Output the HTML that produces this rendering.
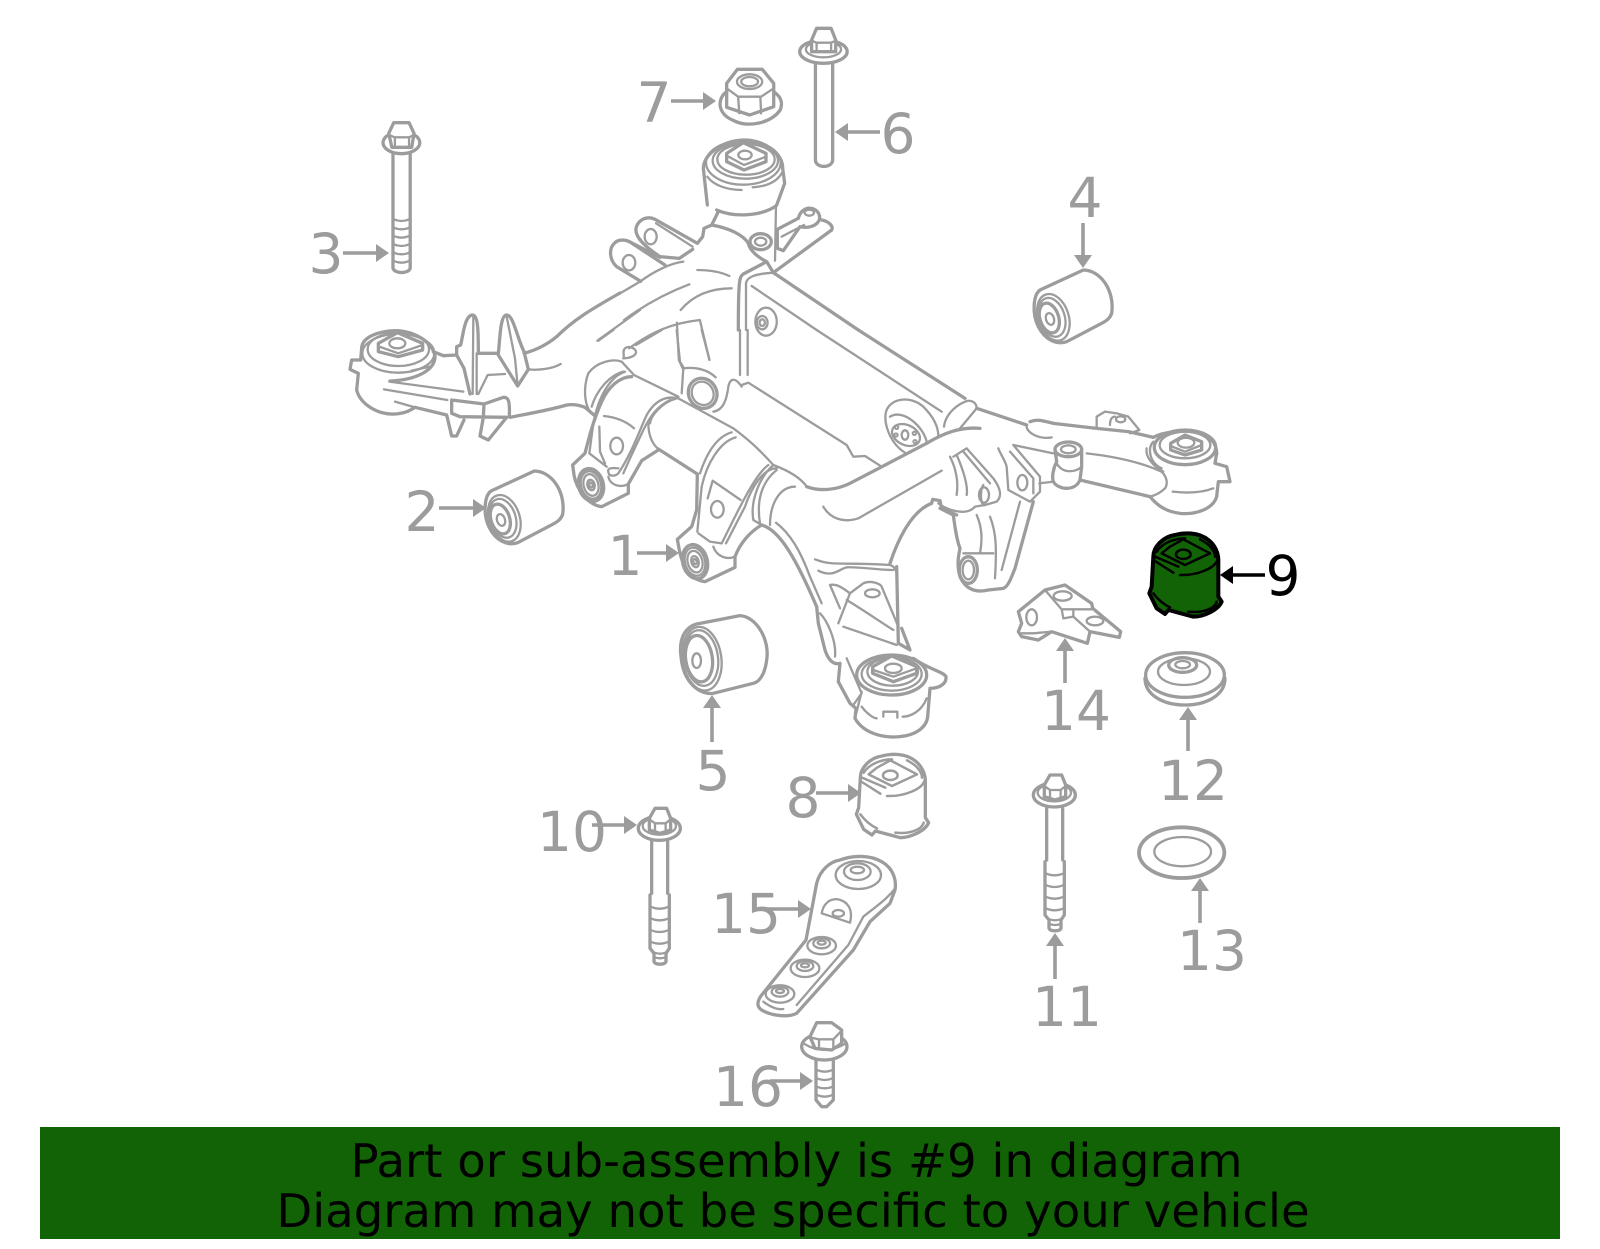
<!DOCTYPE html>
<html><head><meta charset="utf-8"><title>Diagram</title>
<style>
html,body{margin:0;padding:0;background:#fff}
svg{display:block}
svg *{vector-effect:non-scaling-stroke}
.d{fill:none;stroke:#9c9c9c;stroke-width:3.3;stroke-linejoin:round;stroke-linecap:round}
.d .t,.t{stroke-width:2.3}
.s{stroke-width:2.5;fill:none}
.w{fill:#fff}
text{font-family:"DejaVu Sans",sans-serif}
.n{font-size:55px;fill:#9c9c9c;text-anchor:middle}
.b{font-size:46.6px;fill:#000;text-anchor:middle}
.al{stroke:#9c9c9c;stroke-width:3.6}
.ah{fill:#9c9c9c}
</style></head><body>
<svg xmlns="http://www.w3.org/2000/svg" width="1600" height="1249" viewBox="0 0 1600 1249">
<rect width="1600" height="1249" fill="#fff"/>
<defs>
<g id="bush4">
<path d="M720,270 L850,210 C900,210 945,270 935,340 C930,355 920,362 905,370 L800,425 C770,435 735,420 715,380 C695,340 700,285 720,270 Z"/>
<ellipse cx="760" cy="352" rx="46" ry="72" transform="rotate(-18 760 352)" class="t"/>
<ellipse cx="756" cy="352" rx="38" ry="60" transform="rotate(-18 756 352)" class="t"/>
<ellipse cx="748" cy="354" rx="28" ry="46" transform="rotate(-18 748 354)"/>
<ellipse cx="750" cy="357" rx="12" ry="18" transform="rotate(-18 750 357)" class="t"/>
</g>
<g id="bush9">
<path d="M1060,1070 C1060,1040 1090,1010 1125,1005 C1150,998 1195,995 1225,1020 C1245,1035 1255,1060 1255,1080 L1255,1190 L1265,1205 C1255,1230 1210,1250 1180,1250 L1105,1230 L1095,1242 L1070,1225 L1048,1180 L1055,1160 Z"/>
<path class="s" d="M1140,1125 C1190,1127 1245,1105 1252,1080 M1060,1080 L1120,1118 M1065,1070 L1135,1100 M1085,1060 L1155,1095 L1230,1060 L1150,1018 L1110,1040 Z M1070,1055 C1090,1025 1130,1015 1155,1015 M1200,1018 C1225,1030 1245,1050 1245,1070 M1060,1180 C1075,1200 1095,1215 1110,1222 M1165,1235 C1210,1240 1245,1225 1250,1205"/>
<ellipse class="s" cx="1150" cy="1063" rx="22" ry="14"/>
</g>
<g id="bolt10">
<ellipse cx="418" cy="145" rx="63" ry="36"/>
<ellipse cx="418" cy="138" rx="50" ry="26" class="t"/>
<path class="w" d="M388,115 L405,85 L440,85 L452,115 L452,150 L420,160 L388,150 Z"/>
<path class="t" d="M388,118 L405,130 L437,130 L452,118 M405,130 L405,152 M437,130 L437,152"/>
<path d="M395,185 L395,340 M443,185 L443,340 M390,345 L390,505 L402,520 L402,545 C405,555 435,555 438,545 L438,520 L448,505 L448,345"/>
<path class="t" d="M392,380 Q419,392 446,380 M392,415 Q419,427 446,415 M392,450 Q419,462 446,450 M392,485 Q419,497 446,485 M404,518 Q420,524 436,518 M404,532 Q420,538 436,532"/>
</g>
</defs>

<!-- top node & brackets -->
<g class="d" transform="translate(620,120) scale(.33333)">
<path d="M262,255 L250,145 C252,100 310,62 370,60 C430,58 490,100 488,145 L494,190 L470,255"/>
<path d="M290,270 C340,292 420,290 468,258"/>
<ellipse cx="370" cy="128" rx="112" ry="66" class="t"/>
<ellipse cx="376" cy="122" rx="98" ry="54" class="t"/>
<ellipse cx="378" cy="118" rx="86" ry="46" class="t"/>
<path class="w" d="M320,100 L370,68 L438,100 L438,125 L372,150 L320,125 Z"/>
<path class="t" d="M322,108 L372,135 L438,110"/>
<ellipse cx="375" cy="105" rx="20" ry="13" class="t"/>
<path class="t" d="M262,170 C280,195 320,210 365,210 M398,202 C430,200 470,190 488,155"/>
<path d="M295,275 L275,315 L252,325 L248,350 L232,370 L105,298 C85,288 55,295 48,325 C45,345 60,370 120,410 L178,415 L218,388"/>
<path class="t" d="M108,310 L218,380"/>
<ellipse cx="92" cy="350" rx="18" ry="23" class="t"/>
<path d="M120,412 L30,366 C15,358 -5,358 -15,368 C-35,385 -32,420 -10,440 L62,484"/>
<ellipse cx="27" cy="428" rx="19" ry="23" class="t"/>
<path d="M135,435 L30,366"/>
<path d="M275,315 C330,325 370,345 385,370 C390,395 420,415 440,425 L460,458 L635,330 C640,320 630,305 605,300"/>
<ellipse cx="422" cy="365" rx="32" ry="24"/>
<ellipse cx="422" cy="365" rx="17" ry="12" class="t"/>
<path class="t" d="M468,255 L465,422"/>
<path d="M472,328 L535,295 C540,275 555,262 575,265 C595,270 605,290 595,305 C585,320 560,325 540,320 L490,392 L472,385 Z"/>
<ellipse cx="568" cy="278" rx="14" ry="9" class="t"/>
<path class="t" d="M485,350 L552,315"/>
<path d="M440,425 L370,462 C358,470 355,480 355,630"/>
<path class="t" d="M378,630 L378,490 C380,475 395,462 460,458"/>
<path d="M460,458 L715,630"/>
<path class="t" d="M395,498 L590,630"/>
<path d="M0,520 L60,485 C100,455 150,430 190,425" class="t"/>
<path class="t" d="M232,450 C270,450 300,455 328,468 M12,600 C80,550 150,515 208,493 M182,570 C220,525 270,505 335,505"/>
</g>

<!-- left node -->
<g class="d" transform="translate(340,300) scale(.33333)">
<path d="M840,-21 C750,30 700,60 650,110 C620,135 590,150 552,160"/>
<path class="t" d="M772,122 L900,30"/>
<path d="M65,145 C65,110 120,92 170,92 C230,95 280,130 285,170 C285,210 230,240 150,243"/>
<ellipse cx="175" cy="160" rx="108" ry="58" class="t"/>
<ellipse cx="175" cy="148" rx="92" ry="50" class="t"/>
<path class="w" d="M115,130 L172,98 L248,130 L248,150 L175,170 L115,155 Z"/>
<path class="t" d="M118,140 L175,160 L248,135"/>
<ellipse cx="172" cy="130" rx="24" ry="15" class="t"/>
<path class="t" d="M215,212 L270,200"/>
<path d="M65,145 L62,180 L35,180 L30,208 L55,220 L50,270 C60,310 110,345 165,342 C190,340 205,335 225,322 L320,345 L335,408 L350,408 L372,360"/>
<path d="M165,305 L225,322" class="t"/>
<path class="t" d="M132,268 L322,300 M148,245 L370,275"/>
<path d="M280,155 L310,167 L350,165 L350,140 L362,135 C370,100 375,45 398,45 C415,45 415,100 415,160 L475,160 C480,120 480,45 500,45 C520,45 530,110 552,155 L565,208 L533,258 L475,165"/>
<path d="M350,165 L372,205 L390,282"/>
<path class="t" d="M400,50 L398,282 M415,282 L443,225 L495,222 M410,160 L410,282 M500,50 L525,175 L533,258 M565,208 C600,212 640,205 662,192"/>
<path d="M335,300 L335,340 L360,350 L500,352 M335,300 L432,312 L430,352 L420,408 L445,420 L500,352 M432,312 L490,292 C505,292 510,300 508,350"/>
<path d="M510,352 C570,340 630,330 680,315 C700,312 715,315 735,322 L762,345"/>
</g>

<!-- center -->
<g class="d" transform="translate(560,330) scale(.33333)">
<path class="t" d="M100,255 C70,230 70,170 85,130 C110,95 160,85 185,95 L222,135 M190,125 C150,135 110,180 95,230 M222,135 L355,200"/>
<path d="M215,140 C180,140 145,170 125,215 C100,270 85,330 75,370 L38,405 L42,435 C50,480 85,525 125,530 L205,490 L205,462 L245,392 L295,360"/>
<path class="t" d="M132,258 C170,262 200,275 222,295 M118,290 L120,365 L135,400 M195,125 C150,140 115,200 100,280 L88,370 L140,410"/>
<ellipse cx="170" cy="348" rx="19" ry="25" class="t"/>
<path class="t" d="M355,205 C310,195 280,220 260,255 C235,310 215,370 175,430 C165,440 145,440 145,425 C140,410 170,415 175,415 M330,210 C290,230 270,260 250,300 L210,385 L190,430 M145,440 C150,465 180,475 205,462"/>
<g transform="rotate(-15 93 465)"><ellipse cx="93" cy="465" rx="37" ry="50"/><ellipse cx="93" cy="465" rx="30" ry="42" class="t"/><ellipse cx="93" cy="465" rx="22" ry="33" class="t"/><ellipse cx="93" cy="465" rx="11" ry="16" class="t"/><ellipse cx="93" cy="465" rx="5" ry="8" class="t"/></g>
<path class="t" d="M265,280 C265,320 280,345 295,357"/>
<path d="M295,357 L412,432"/>
<path d="M355,205 L520,295 C560,325 590,350 640,405" class="t"/>
<path class="t" d="M270,280 C272,260 300,220 350,205"/>
<path d="M412,432 L410,540 L395,590 L352,628 L358,660 C370,720 395,750 435,755 L525,712 L525,680 C540,640 570,605 605,585"/>
<path class="t" d="M420,430 C440,370 470,320 515,307 M412,605 L425,470 C440,400 480,335 527,322 M443,505 L458,452 L542,510"/>
<ellipse cx="472" cy="538" rx="19" ry="25" class="t"/>
<path class="t" d="M650,415 C610,415 575,470 555,530 L498,640 M625,405 C590,430 550,510 515,580 L485,640 L450,635 L415,610 M460,650 C470,680 500,690 525,680"/>
<g transform="rotate(-15 405 695)"><ellipse cx="405" cy="695" rx="37" ry="52"/><ellipse cx="405" cy="695" rx="30" ry="43" class="t"/><ellipse cx="405" cy="695" rx="22" ry="33" class="t"/><ellipse cx="405" cy="695" rx="11" ry="17" class="t"/><ellipse cx="405" cy="695" rx="5" ry="8" class="t"/></g>
<path class="t" d="M640,405 C600,440 570,510 580,570 L605,585 M650,420 C600,460 590,520 600,580 M705,470 C660,470 630,520 630,585 M640,405 C680,420 720,440 740,470"/>
<path d="M740,470 C780,485 830,480 870,460 L1100,340 C1150,310 1200,290 1260,295"/>
<path class="t" d="M790,530 C810,565 850,580 895,565 L1145,422"/>
<path d="M605,585 C660,600 710,690 770,830"/>
<path class="t" d="M648,578 C690,610 720,660 750,740 L785,820"/>
<path d="M990,700 C1010,640 1050,545 1115,520 L1118,508 L1140,512 L1145,535 L1190,555"/>
<path class="t" d="M765,688 C820,710 850,695 990,705 C1005,710 1010,720 1012,745 M775,722 C820,745 840,715 860,712 C900,710 950,720 1000,720"/>
<path class="t" d="M545,170 C525,140 510,145 505,170 C500,210 490,240 460,245 M545,165 L565,158 L860,345 L880,380 L915,378 L965,410"/>
<ellipse cx="428" cy="190" rx="42" ry="46" transform="rotate(-30 428 190)"/>
<ellipse cx="428" cy="190" rx="32" ry="36" transform="rotate(-30 428 190)" class="t"/>
<path class="t" d="M370,115 L365,190 M370,115 C410,110 445,120 467,142 M350,0 L360,95 L372,115 M425,0 L448,88 M540,0 L540,135 M563,0 L563,135 M770,0 L1145,245"/>
<path d="M895,0 L1215,205"/>
<path class="t" d="M1035,368 C990,340 970,280 978,245 C990,205 1050,195 1090,230 C1120,260 1135,290 1135,318 M1100,335 C1090,290 1030,235 990,260"/>
<ellipse cx="1038" cy="315" rx="44" ry="30" transform="rotate(25 1038 315)" class="t"/>
<ellipse cx="1035" cy="315" rx="10" ry="14" class="t"/>
<circle cx="1010" cy="292" r="3"/><circle cx="1008" cy="315" r="3"/><circle cx="1065" cy="335" r="3"/><circle cx="1063" cy="310" r="3"/>
<path class="t" d="M190,85 C195,75 185,65 195,55 C205,45 230,55 228,68 C225,80 205,85 190,85 M228,45 L305,0 M115,32 L160,0"/>
</g>

<!-- right -->
<g class="d" transform="translate(800,200) scale(.33333)">
<path class="t" d="M432,680 C435,650 460,620 495,605 C510,598 530,605 530,625 L480,685 M680,675 C675,695 715,720 755,712"/>
<path d="M530,625 L680,675"/>
<path d="M690,665 C715,655 735,665 760,670 L890,685 L985,695 L1060,712"/>
<path d="M890,685 L890,650 L915,635 L950,640 L985,650 L1018,690 L990,700" class="t"/>
<ellipse cx="962" cy="658" rx="14" ry="9" class="t"/>
<path class="t" d="M930,675 C930,660 935,650 945,650"/>
<path d="M1060,712 C1090,695 1150,690 1190,695 C1230,705 1250,730 1250,760"/>
<ellipse cx="1155" cy="742" rx="92" ry="52"/>
<ellipse cx="1155" cy="735" rx="76" ry="40" class="t"/>
<path class="w" d="M1112,730 L1155,705 L1205,725 L1205,750 L1155,765 L1112,750 Z"/>
<path class="t" d="M1112,738 L1155,755 L1205,735"/>
<ellipse cx="1158" cy="728" rx="25" ry="15" class="t"/>
<path class="t" d="M1040,745 C1035,770 1060,800 1090,815 M1060,725 C1040,745 1050,790 1085,805"/>
<path d="M1250,760 L1245,790 L1280,800 L1290,845 L1255,845 L1250,890 C1240,925 1190,945 1140,940 C1100,935 1075,920 1050,890 L840,840"/>
<path class="t" d="M1085,815 C1100,830 1105,850 1095,865 C1085,875 1070,885 1050,890 M860,760 C950,770 1030,790 1085,815 M1118,875 C1160,880 1200,880 1240,865"/>
<ellipse cx="805" cy="748" rx="40" ry="22"/>
<ellipse cx="805" cy="748" rx="22" ry="12" class="t"/>
<path d="M765,750 L770,785 C760,805 755,830 760,845 C775,870 825,875 840,840 L845,800 L845,750"/>
<path class="t" d="M770,790 C790,825 830,815 845,800"/>
<path class="t" d="M640,735 L760,760 M640,735 L720,830 L720,875 L690,905 L625,870 L620,800 C615,780 600,760 595,745 M718,850 L760,845 M630,755 L700,835 L700,880"/>
<ellipse cx="667" cy="848" rx="15" ry="23" class="t"/>
<path class="t" d="M460,770 L500,745 L580,835 C605,870 605,890 590,905 L555,915 C540,918 540,870 550,855 M490,755 L570,850 M450,770 C470,810 475,850 470,885 M470,765 C490,810 505,860 500,885"/>
<ellipse cx="552" cy="885" rx="15" ry="23" class="t"/>
<path class="t" d="M415,910 C440,930 500,950 525,920 L555,915"/>
<path d="M420,925 L460,945 C465,985 470,1020 480,1045 C475,1070 470,1095 480,1130 C495,1165 525,1180 565,1170 L610,1165 C625,1160 635,1130 645,1105 L700,905"/>
<ellipse cx="505" cy="1110" rx="27" ry="40"/>
<ellipse cx="505" cy="1110" rx="17" ry="28" class="t"/>
<path class="t" d="M490,1060 L580,1060 M530,945 C550,990 545,1030 540,1060 M570,950 C590,1000 590,1050 585,1135 M660,905 L605,1110"/>
<use href="#bush4"/>
<!-- part 14 -->
<path d="M655,1235 L735,1170 L795,1155 L875,1210 L878,1225 L962,1295 L958,1312 L870,1295 L862,1330 L755,1295 L715,1320 L665,1310 L655,1295 L665,1270 Z"/>
<path class="t" d="M735,1170 L785,1228 L875,1228 M785,1228 L790,1255 L820,1250 L820,1232 M820,1250 L870,1295 M665,1300 L700,1300 L755,1295"/>
<ellipse cx="695" cy="1252" rx="16" ry="24" class="t"/>
<ellipse cx="788" cy="1188" rx="27" ry="14" class="t"/>
<ellipse cx="885" cy="1263" rx="25" ry="13" class="t"/>
</g>

<!-- part 2 -->
<g class="d" transform="translate(251,401) scale(.33333)"><use href="#bush4"/></g>

<!-- part 9 -->
<g transform="translate(800,200) scale(.33333)" fill="#126305" stroke="#000" stroke-width="4" stroke-linejoin="round" stroke-linecap="round">
<use href="#bush9"/>
</g>
<!-- part 8 -->
<g transform="translate(507,421) scale(.33333)" fill="none" stroke="#9c9c9c" stroke-width="3.3" stroke-linejoin="round" stroke-linecap="round">
<use href="#bush9"/>
</g>

<!-- lower frame + 5 -->
<g class="d" transform="translate(500,450) scale(.33333)">
<path d="M950,470 L955,520 L975,600 C985,630 1000,645 1020,640 L1015,695 L1050,760 L1068,775 L1065,805 C1090,850 1150,865 1200,860 C1250,855 1280,830 1283,800 L1290,715 C1320,715 1340,700 1338,680 C1330,665 1290,660 1240,625"/>
<path class="t" d="M960,490 C980,510 1010,570 1005,620 M1040,625 L1085,730 L1060,765 M990,405 C1010,400 1030,415 1050,430 L1090,400 C1110,390 1140,400 1145,410 L1195,530 M990,405 L1020,475 M1050,430 L1015,520 M1030,530 L1190,585 M1040,450 C1090,480 1140,515 1180,540 M1085,725 L1065,805"/>
<path d="M1190,350 L1195,580 L1230,600 L1205,535"/>
<ellipse cx="1117" cy="430" rx="22" ry="12" class="t"/>
<ellipse cx="1175" cy="675" rx="105" ry="60"/>
<ellipse cx="1175" cy="672" rx="90" ry="50" class="t"/>
<ellipse cx="1178" cy="665" rx="76" ry="42" class="t"/>
<path class="w" d="M1118,650 L1175,618 L1250,650 L1250,670 L1180,695 L1118,670 Z"/>
<path class="t" d="M1120,660 L1180,680 L1250,655"/>
<ellipse cx="1180" cy="655" rx="25" ry="14" class="t"/>
<path class="t" d="M1085,770 C1100,790 1120,805 1130,805 M1150,800 L1150,785 L1192,785 L1192,803 M1208,800 C1230,800 1265,785 1280,745"/>
<!-- 5 -->
<path d="M600,520 L720,497 C770,500 810,570 800,630 C795,670 780,695 760,700 L640,730 C600,735 550,700 543,620 C535,560 560,525 600,520 Z"/>
<ellipse cx="606" cy="626" rx="58" ry="96" transform="rotate(-8 606 626)" class="t"/>
<ellipse cx="604" cy="624" rx="50" ry="84" transform="rotate(-8 604 624)" class="t"/>
<ellipse cx="597" cy="626" rx="40" ry="70" transform="rotate(-8 597 626)"/>
<ellipse cx="590" cy="632" rx="13" ry="22" class="t"/>
</g>

<!-- bolts 3,6,7 (horizontally compressed zoom space) -->
<g class="d" transform="translate(300,0) scale(.38265,.33333)">
<ellipse cx="265" cy="428" rx="48" ry="33"/>
<path class="w" d="M232,400 L245,368 L285,368 L298,400 L292,442 L240,442 Z"/>
<path class="t" d="M232,405 L248,412 L285,412 L298,405 M248,412 L248,442 M285,412 L285,442"/>
<path d="M243,460 L243,805 C248,822 283,822 288,805 L288,460"/>
<path class="t" d="M245,658 Q265,668 286,658 M245,683 Q265,693 286,683 M245,708 Q265,718 286,708 M245,733 Q265,743 286,733 M245,758 Q265,768 286,758 M245,783 Q265,793 286,783"/>
<ellipse cx="1368" cy="155" rx="62" ry="35"/>
<ellipse cx="1368" cy="148" rx="46" ry="24" class="t"/>
<path class="w" d="M1337,120 L1350,85 L1388,85 L1400,120 L1400,155 L1337,155 Z"/>
<path class="t" d="M1337,122 L1350,128 L1388,128 L1400,122 M1350,128 L1350,155 M1388,128 L1388,155"/>
<path d="M1347,190 L1347,482 C1350,505 1388,505 1392,482 L1392,190"/>
<path d="M1115,275 C1090,295 1090,340 1130,360 C1170,385 1230,370 1255,330 C1265,300 1250,285 1238,275"/>
<path d="M1115,250 L1143,208 L1208,208 L1238,250 L1238,320 L1175,345 L1115,322 Z"/>
<path class="t" d="M1115,265 L1145,290 L1205,290 L1238,265 M1145,290 L1148,340 M1203,290 L1205,340"/>
<ellipse cx="1175" cy="245" rx="33" ry="22" class="t"/>
<ellipse cx="1175" cy="245" rx="22" ry="14" class="t"/>
<!-- frame inner arcs and panel bolt -->
<path class="t" d="M860,1045 C920,995 970,970 1045,960 L1070,1080 M985,968 L990,1080 L1000,1105"/>
<ellipse cx="1218" cy="965" rx="28" ry="42" class="t"/>
<ellipse cx="1208" cy="968" rx="14" ry="20" class="t"/>
<ellipse cx="1208" cy="968" rx="7" ry="10" class="t"/>
</g>

<!-- bottom left group -->
<g class="d" transform="translate(520,780) scale(.33333)">
<use href="#bolt10"/>
<path d="M890,310 C900,270 930,245 960,240 C1000,225 1050,225 1085,245 C1120,265 1130,300 1125,330 L1110,370 L1050,425 L1000,510 L830,700 C800,715 750,705 725,690 C710,680 710,665 725,645 L858,480 L890,310 Z"/>
<path class="t" d="M1125,325 C1100,360 1060,385 1030,410 L985,495 L830,675 M790,687 C770,690 750,680 730,665"/>
<ellipse cx="1015" cy="285" rx="68" ry="42" class="t"/>
<ellipse cx="1012" cy="275" rx="40" ry="25" class="t"/>
<ellipse cx="1012" cy="270" rx="20" ry="10" class="t"/>
<path class="t" d="M905,400 C910,370 930,355 955,358 C985,365 1000,390 990,428 Z"/>
<ellipse cx="955" cy="400" rx="17" ry="10" class="t"/>
<g class="t"><ellipse cx="905" cy="497" rx="43" ry="26"/><ellipse cx="905" cy="490" rx="25" ry="15"/><ellipse cx="905" cy="488" rx="12" ry="6"/>
<ellipse cx="855" cy="565" rx="43" ry="26"/><ellipse cx="855" cy="558" rx="25" ry="15"/><ellipse cx="855" cy="556" rx="12" ry="6"/>
<ellipse cx="780" cy="642" rx="43" ry="26"/><ellipse cx="780" cy="635" rx="25" ry="15"/><ellipse cx="780" cy="633" rx="12" ry="6"/></g>
<ellipse cx="913" cy="800" rx="68" ry="40"/>
<path class="t" d="M850,790 Q913,830 978,790"/>
<path class="w" d="M870,770 L890,728 L935,728 L965,750 L965,790 L935,810 L885,805 Z"/>
<path class="t" d="M870,772 L897,778 L940,778 L965,752 M897,778 L897,806 M940,778 L940,808"/>
<path d="M888,840 L888,960 L905,980 L920,980 L940,960 L940,840"/>
<path class="t" d="M890,870 Q914,880 938,870 M890,895 Q914,905 938,895 M890,920 Q914,930 938,920 M890,945 Q914,955 938,945"/>
</g>

<!-- bolt 11, parts 12, 13 -->
<g class="d" transform="translate(1000,640) scale(.33333)">
<use href="#bolt10" transform="translate(-255,320)"/>
<ellipse cx="555" cy="105" rx="118" ry="67"/>
<path d="M435,115 C435,165 490,195 555,195 C620,195 675,165 675,115"/>
<ellipse cx="552" cy="95" rx="78" ry="40" class="t"/>
<ellipse cx="548" cy="75" rx="42" ry="22"/>
<ellipse cx="548" cy="74" rx="22" ry="11" class="t"/>
<ellipse cx="545" cy="638" rx="128" ry="76" style="stroke-width:3.8"/>
<ellipse cx="548" cy="635" rx="85" ry="44" class="t"/>
</g>

<!-- arrows -->
<g class="al">
<line x1="637" y1="553" x2="668" y2="553"/><line x1="439" y1="508" x2="475" y2="508"/>
<line x1="343" y1="253" x2="378" y2="253"/><line x1="1083" y1="223" x2="1083" y2="257"/>
<line x1="712" y1="742" x2="712" y2="706"/><line x1="880" y1="132" x2="846" y2="132"/>
<line x1="671" y1="101" x2="705" y2="101"/><line x1="816" y1="793" x2="850" y2="793"/>
<line x1="592" y1="825" x2="626" y2="825"/><line x1="1055" y1="979" x2="1055" y2="944"/>
<line x1="1188" y1="751" x2="1188" y2="718"/><line x1="1200" y1="923" x2="1200" y2="889"/>
<line x1="1065" y1="683" x2="1065" y2="649"/><line x1="765" y1="909" x2="800" y2="909"/>
<line x1="770" y1="1081" x2="802" y2="1081"/>
</g>
<g class="ah">
<polygon points="679,553 666,544 666,562"/><polygon points="486,508 473,499 473,517"/>
<polygon points="389,253 376,244 376,262"/><polygon points="1083,268 1074,255 1092,255"/>
<polygon points="712,695 703,708 721,708"/><polygon points="835,132 848,123 848,141"/>
<polygon points="716,101 703,92 703,110"/><polygon points="861,793 848,784 848,802"/>
<polygon points="637,825 624,816 624,834"/><polygon points="1055,933 1046,946 1064,946"/>
<polygon points="1188,707 1179,720 1197,720"/><polygon points="1200,878 1191,891 1209,891"/>
<polygon points="1065,638 1056,651 1074,651"/><polygon points="811,909 798,900 798,918"/>
<polygon points="813,1081 800,1072 800,1090"/>
</g>
<line x1="1265" y1="575" x2="1232" y2="575" stroke="#000" stroke-width="3.6"/>
<polygon points="1220,575 1233,566 1233,584" fill="#000"/>

<!-- labels -->
<g>
<text class="n" x="625" y="575">1</text>
<text class="n" x="422" y="531">2</text>
<text class="n" x="326" y="273">3</text>
<text class="n" x="1085" y="217">4</text>
<text class="n" x="713" y="790">5</text>
<text class="n" x="898" y="153">6</text>
<text class="n" x="654" y="122">7</text>
<text class="n" x="803" y="817">8</text>
<text class="n" x="1283" y="595" style="fill:#000">9</text>
<text class="n" x="572" y="851">10</text>
<text class="n" x="1067" y="1026">11</text>
<text class="n" x="1193" y="800">12</text>
<text class="n" x="1212" y="970">13</text>
<text class="n" x="1076" y="730">14</text>
<text class="n" x="746" y="933">15</text>
<text class="n" x="748" y="1106">16</text>
</g>

<!-- banner -->
<rect x="40" y="1127" width="1520" height="112" fill="#126305"/>
<text class="b" x="796.5" y="1177">Part or sub-assembly is #9 in diagram</text>
<text class="b" x="793" y="1227">Diagram may not be specific to your vehicle</text>
</svg>
</body></html>
